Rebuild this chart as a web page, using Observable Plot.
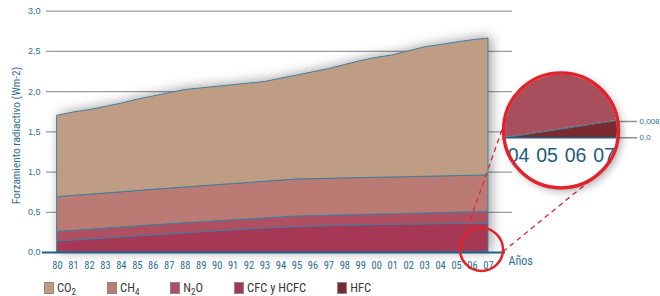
<!DOCTYPE html>
<html><head><meta charset="utf-8">
<script src="https://cdn.jsdelivr.net/npm/d3@7"></script>
<script src="https://cdn.jsdelivr.net/npm/@observablehq/plot@0.6"></script>
<style>
html,body{margin:0;padding:0;background:#fff;}
#wrap{position:relative;width:660px;height:296px;overflow:hidden;font-family:"Liberation Sans Narrow","Roboto Condensed","Liberation Sans",sans-serif;}
#main{position:absolute;left:0;top:0;}
#inset{position:absolute;left:480px;top:60px;}
#legend{position:absolute;left:44px;top:282px;display:flex;align-items:center;height:12px;}
.item{display:flex;align-items:center;margin-right:31px;font-size:12.5px;color:#3a3a3a;line-height:12px;}
.sw{width:10px;height:12px;box-sizing:border-box;border:1px solid #8a8a8a;margin-right:3px;}
.item sub{font-size:9px;vertical-align:-3px;line-height:0;}
</style></head><body>
<div id="wrap"><div id="main"></div><div id="inset"></div><div id="legend"></div></div>
<script>
// ---- data ----
const years = [1980,1981,1982,1983,1984,1985,1986,1987,1988,1989,1990,1991,1992,1993,1994,1995,1996,1997,1998,1999,2000,2001,2002,2003,2004,2005,2006,2007];
const xTickLabels = ["80","81","82","83","84","85","86","87","88","89","90","91","92","93","94","95","96","97","98","99","00","01","02","03","04","05","06","07"];
const co2 = [1.012,1.037,1.052,1.077,1.102,1.136,1.161,1.186,1.212,1.217,1.223,1.229,1.235,1.240,1.266,1.292,1.328,1.364,1.409,1.455,1.491,1.517,1.563,1.609,1.635,1.660,1.686,1.702];
const ch4 = [0.431,0.433,0.434,0.436,0.437,0.440,0.441,0.443,0.444,0.447,0.449,0.451,0.453,0.456,0.458,0.460,0.459,0.459,0.459,0.458,0.457,0.457,0.456,0.455,0.454,0.455,0.454,0.453];
const n2o = [0.120,0.120,0.122,0.122,0.124,0.124,0.125,0.125,0.125,0.124,0.123,0.123,0.124,0.126,0.129,0.133,0.131,0.129,0.129,0.129,0.130,0.131,0.133,0.136,0.139,0.141,0.144,0.148];
const cfc = [0.137,0.150,0.162,0.175,0.187,0.200,0.213,0.226,0.239,0.252,0.265,0.277,0.288,0.298,0.307,0.315,0.322,0.328,0.333,0.338,0.342,0.345,0.348,0.350,0.350,0.350,0.349,0.349];
const hfc = [0,0,0,0,0,0,0,0,0,0,0,0,0,0,0,0,0,0,0,0,0,0,0,0,0.0021,0.0043,0.0064,0.0085];
const gasNames = ["CO2","CH4","N2O","CFC y HCFC","HFC"];      // legend order (top of stack first)
const gasColors = ["#bf9c84","#bc7a74","#b04f62","#a63854","#7c2a31"];
const yTicks = [0,0.5,1,1.5,2,2.5,3];
const yTickLabels = ["0,0","0,5","1,0","1,5","2,0","2,5","3,0"];
const insetYears = [2004,2005,2006,2007];
const insetTicks = [0,0.008];
const insetTickLabels = ["0,0","0,008"];
const insetColors = ["#7b2a30","#a84f5e"];
const yTitle = "Forzamiento radiactivo (Wm-2)";
const xTitle = "Años";

// ---- build table ----
const series = {"CO2": co2, "CH4": ch4, "N2O": n2o, "CFC y HCFC": cfc, "HFC": hfc};
const stackOrder = gasNames.slice().reverse(); // bottom-up
const rows = [];
for (const g of stackOrder) years.forEach((yr, i) => rows.push({year: yr, gas: g, value: series[g][i]}));
const insetRows = rows.filter(d => (d.gas === "HFC" || d.gas === "CFC y HCFC") && d.year >= 2003);
const insetHfc = insetRows.filter(d => d.gas === "HFC");

const narrow = '"Liberation Sans Narrow","Roboto Condensed","Liberation Sans",sans-serif';
const regular = '"Liberation Sans",Arial,sans-serif';
const teal = "#2e6f93";

const chart = Plot.plot({
  width: 660, height: 272,
  marginLeft: 57, marginRight: 172, marginTop: 10.7, marginBottom: 20,
  style: {background: "transparent", overflow: "visible", fontFamily: narrow},
  x: {domain: [1980, 2007]},
  y: {domain: [0, 3]},
  color: {domain: gasNames, range: gasColors},
  marks: [
    Plot.ruleY(yTicks.filter(d => d > 0), {stroke: "#9b9b9b", strokeWidth: 1.3, insetLeft: -11, insetRight: -24}),
    Plot.areaY(rows, {x: "year", y: "value", z: "gas", fill: "gas", stroke: "#3f7d9b", strokeWidth: 1, order: stackOrder}),
    Plot.ruleY([0], {stroke: "#1d5e8a", strokeWidth: 2, insetLeft: -15, insetRight: -17}),
    Plot.axisY(yTicks, {tickSize: 0, tickPadding: 17, tickFormat: (d, i) => yTickLabels[yTicks.indexOf(d)], fill: teal, fontSize: 9, fontFamily: regular, label: null}),
    Plot.axisX(years, {tickSize: 0, tickPadding: 9, tickFormat: d => xTickLabels[years.indexOf(d)], fill: "#2a6c92", fontSize: 10.5, label: null}),
    Plot.text([yTitle], {frameAnchor: "left", textAnchor: "middle", rotate: -90, dx: -41, dy: 3.5, fill: teal, fontSize: 11.3}),
    Plot.text([xTitle], {frameAnchor: "bottom-right", textAnchor: "start", dx: 20, dy: 12, fill: teal, fontSize: 12})
  ]
});
document.getElementById("main").appendChild(chart);

// shadow behind the stacked areas
const svg = d3.select(chart);
const defs = svg.insert("defs", ":first-child");
defs.append("filter").attr("id", "sh").attr("x", "-20%").attr("y", "-30%").attr("width", "140%").attr("height", "160%")
  .append("feDropShadow").attr("dx", 3).attr("dy", -1).attr("stdDeviation", 6).attr("flood-color", "#000").attr("flood-opacity", 0.38);
const areaG = svg.select('g[aria-label="area"]');
const wrapG = svg.insert("g", () => areaG.node()).attr("filter", "url(#sh)");
wrapG.node().appendChild(areaG.node());

// ---- inset (magnified view) ----
const inset = Plot.plot({
  width: 180, height: 140,
  marginLeft: 23, marginRight: 43, marginTop: 61, marginBottom: 62.7,
  style: {background: "transparent", overflow: "visible", fontFamily: narrow},
  x: {domain: [2003, 2007]},
  y: {domain: [0, 0.008]},
  color: {domain: ["HFC", "CFC y HCFC"], range: insetColors},
  marks: [
    Plot.ruleY(insetTicks, {stroke: "#8f8f8f", strokeWidth: 1.6, insetLeft: 90, insetRight: -20}),
    Plot.dot([0], {frameAnchor: "middle", dx: 0.5, dy: 0.8, r: 57.5, fill: "white", stroke: "none"}),
    Plot.areaY(insetRows, {x: "year", y: "value", z: "gas", fill: "gas", order: ["HFC", "CFC y HCFC"]}),
    Plot.lineY(insetHfc, {x: "year", y: "value", stroke: "#3f7d9b", strokeWidth: 1.2}),
    Plot.ruleY([0], {stroke: "#1d5e8a", strokeWidth: 1.5, insetLeft: -40, insetRight: -40}),
    Plot.axisX(insetYears, {tickSize: 0, tickPadding: 10, dx: -13.5, tickFormat: d => xTickLabels[years.indexOf(d)], fill: "#1b5c80", fontSize: 19.5, fontFamily: regular, label: null}),
    Plot.axisY(insetTicks, {anchor: "right", tickSize: 0, tickPadding: 22, tickFormat: d => insetTickLabels[insetTicks.indexOf(d)], fill: teal, fontSize: 8, fontFamily: regular, label: null}),
    Plot.dot([0], {frameAnchor: "middle", dx: 0.5, dy: 0.8, r: 57.5, fill: "none", stroke: "#e3232b", strokeWidth: 3.5})
  ]
});
document.getElementById("inset").appendChild(inset);
const isvg = d3.select(inset);
const idefs = isvg.insert("defs", ":first-child");
idefs.append("filter").attr("id", "sh2").attr("x", "-30%").attr("y", "-30%").attr("width", "160%").attr("height", "160%")
  .append("feDropShadow").attr("dx", 3).attr("dy", 3).attr("stdDeviation", 4).attr("flood-color", "#000").attr("flood-opacity", 0.35);
const dots = isvg.selectAll('g[aria-label="dot"]');
const bgDot = d3.select(dots.nodes()[0]);
bgDot.attr("filter", "url(#sh2)");
const ringNode = d3.select(dots.nodes()[1]).select("circle").node();
const rb = ringNode.getBoundingClientRect(), ib = inset.getBoundingClientRect();
const ccx = rb.left - ib.left + rb.width / 2, ccy = rb.top - ib.top + rb.height / 2;
idefs.append("clipPath").attr("id", "cc").append("circle").attr("cx", ccx).attr("cy", ccy).attr("r", 56);
isvg.select('g[aria-label="area"]').attr("clip-path", "url(#cc)");
isvg.select('g[aria-label="line"]').attr("clip-path", "url(#cc)");
const rules = isvg.selectAll('g[aria-label="rule"]').nodes();
d3.select(rules[rules.length - 1]).attr("clip-path", "url(#cc)");

// ---- connector annotation (small circle + dashed lines) ----
const xs = chart.scale("x"), ys = chart.scale("y");
const sc = {x: (xs.apply(2006) + xs.apply(2007)) / 2 + 1.5, y: ys.apply(0) - 2.5, r: 21.5};
const bc = {x: 480 + ccx, y: 60 + ccy, r: 58};
const pt = (c, deg) => [c.x + c.r * Math.cos(deg * Math.PI / 180), c.y + c.r * Math.sin(deg * Math.PI / 180)];
const ann = svg.append("g");
const lines = [[pt(sc, -143), pt(bc, -176)], [pt(sc, 6), pt(bc, 60)]];
for (const [a, b] of lines) {
  ann.append("line").attr("x1", a[0]).attr("y1", a[1]).attr("x2", b[0]).attr("y2", b[1])
    .attr("stroke", "#e3232b").attr("stroke-width", 1.3).attr("stroke-dasharray", "5,4");
}
ann.append("circle").attr("cx", sc.x).attr("cy", sc.y).attr("r", sc.r).attr("fill", "none").attr("stroke", "#e3232b").attr("stroke-width", 2.5);

// ---- legend ----
const legend = d3.select("#legend");
gasNames.forEach((g, i) => {
  const it = legend.append("div").attr("class", "item");
  it.append("div").attr("class", "sw").style("background", gasColors[i]);
  const html = /^(CO2|CH4|N2O)$/.test(g) ? g.replace(/(\d)/g, "<sub>$1</sub>") : g;
  it.append("span").html(html);
});
</script>
</body></html>
